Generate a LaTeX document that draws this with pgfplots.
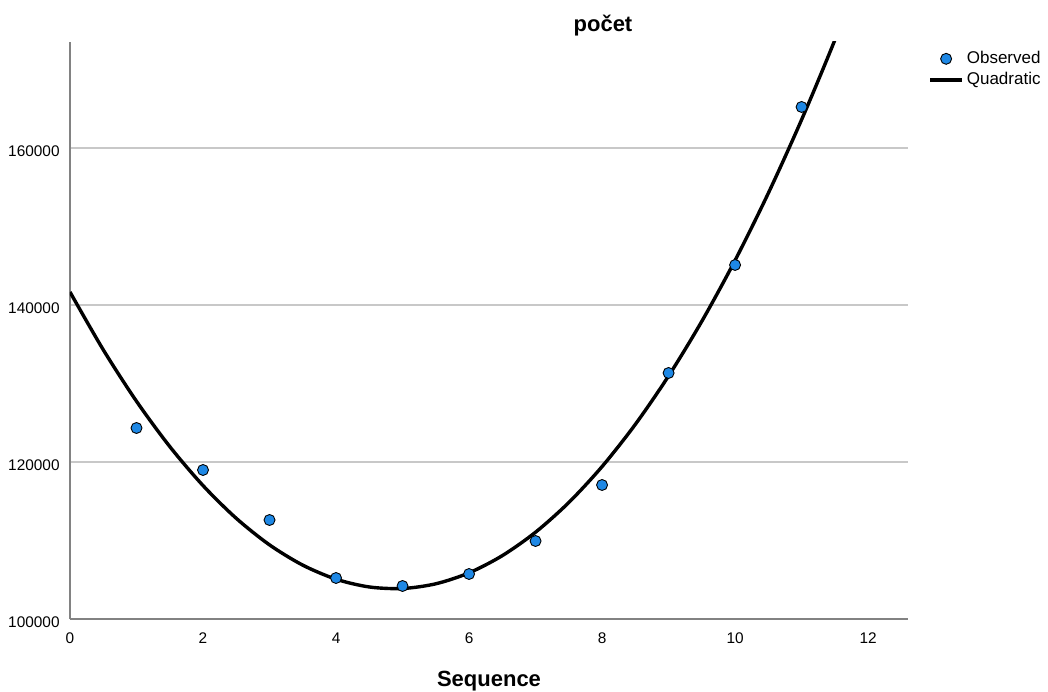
\documentclass[border=0pt]{standalone}
\usepackage{pgfplots}
\pgfplotsset{compat=1.18}
\usepackage{fontspec}
\setmainfont{Liberation Sans}
\definecolor{obsblue}{RGB}{30,136,229}
\definecolor{gridgray}{RGB}{200,200,200}
\definecolor{axgray}{RGB}{130,130,130}
\pgfplotsset{
  obsleg/.style={legend image code/.code={\draw[##1] plot coordinates {(8pt,0pt)};}},
  fitleg/.style={legend image code/.code={\draw[##1] (0pt,0pt) -- (16pt,0pt);}},
}
\begin{document}
\begin{tikzpicture}
\path[use as bounding box] (0,0) rectangle (524pt,345.5pt);
\begin{axis}[
  at={(35pt,36pt)}, anchor=south west,
  scale only axis, width=419pt, height=288.5pt,
  xmin=0, xmax=12.6, ymin=100000, ymax=173500,
  xtick={0,2,4,6,8,10,12},
  xticklabels={0,2,4,6,8,10,12},
  ytick={100000,120000,140000,160000},
  yticklabels={100000,120000,140000,160000},
  scaled ticks=false,
  axis x line*=bottom, axis y line*=left,
  axis line style={axgray, line width=0.8pt, -},
  major tick length=0pt,
  ymajorgrids, grid style={gridgray, line width=0.8pt},
  tick label style={font=\fontsize{7.7}{9}\selectfont, black},
  xticklabel style={anchor=base, yshift=-12pt},
  yticklabel style={anchor=east, inner sep=0pt, xshift=-5pt, yshift=-1.5pt},
  title={\textbf{počet}},
  title style={at={(axis description cs:0.636,1)}, anchor=base, yshift=-1pt, font=\fontsize{11}{13}\selectfont},
  xlabel={\textbf{Sequence}},
  xlabel style={at={(axis description cs:0.5,0)}, anchor=base, yshift=-33.5pt, font=\fontsize{11}{13}\selectfont},
  legend style={at={(axis description cs:1.0239,0.99)}, anchor=north west, draw=none, fill=none,
    font=\fontsize{8.5}{10}\selectfont, row sep=0pt, inner sep=0pt,
    nodes={inner sep=1.5pt}},
  legend cell align=left,
  clip=true,
]
\addplot[only marks, mark=*, mark size=2.75pt, mark options={fill=obsblue, draw=black, line width=0.45pt}, obsleg]
  coordinates {
  (1,124331) (2,118981) (3,112611) (4,105223) (5,104204) (6,105732)
  (7,109936) (8,117070) (9,131338) (10,145096) (11,165223)
  };
\addlegendentry{Observed}
\addplot[black, line width=1.7pt, smooth, no marks, fitleg]
  coordinates {
  (0,141654) (0.5,134297) (1,127735) (1.5,121968) (2,116998) (2.5,112823)
  (3,109444) (3.5,106860) (4,105073) (4.5,104081) (5,103885) (5.5,104485)
  (6,105880) (6.5,108071) (7,111058) (7.5,114841) (8,119419) (8.5,124793)
  (9,130963) (9.5,137929) (10,145690) (10.5,154248) (11,163601) (11.5,173749)
  (12,184693)
  };
\addlegendentry{Quadratic}
\end{axis}
\end{tikzpicture}
\end{document}
